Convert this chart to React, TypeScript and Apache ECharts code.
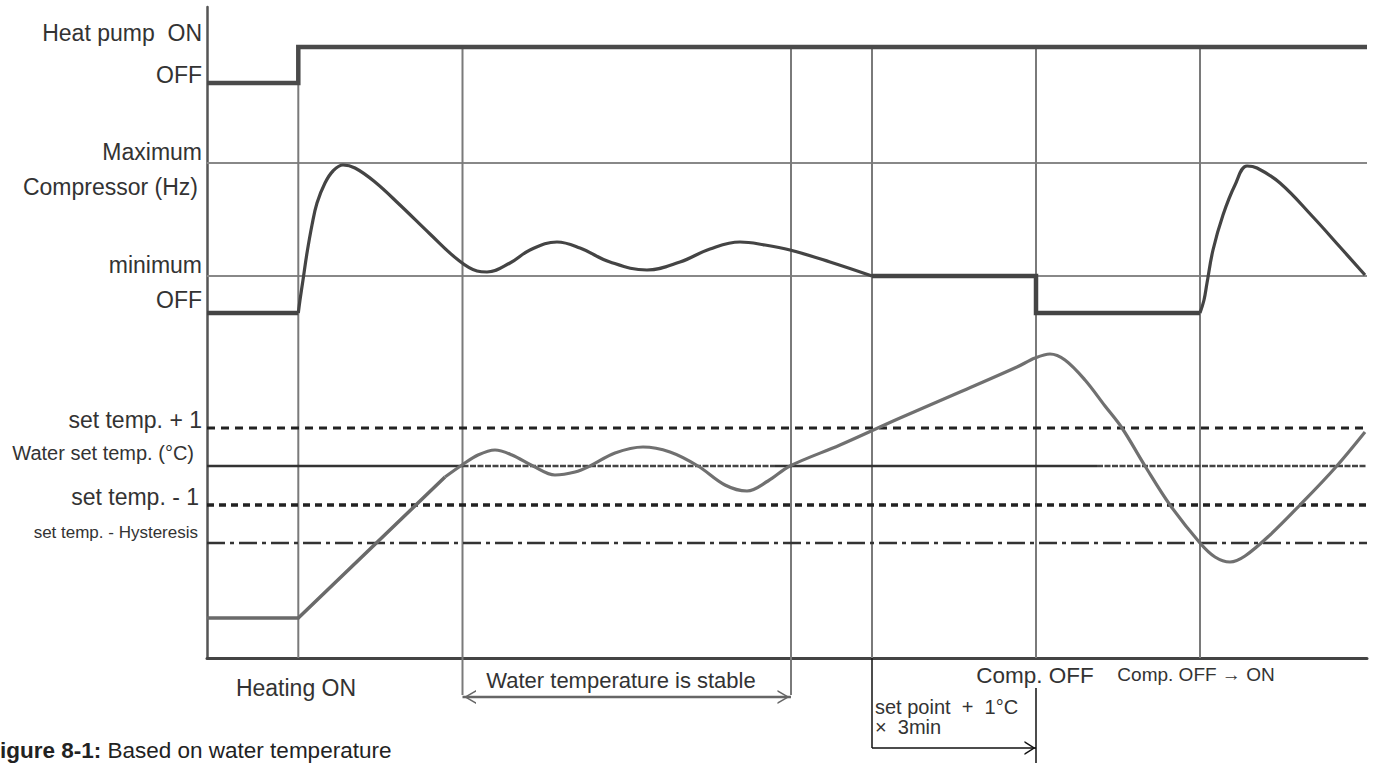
import React, { useEffect, useRef } from "react";
import * as echarts from "echarts";

// ---------- scales ----------
const X_MAX = 116;
const Y_MAX = 65.1;

// ---------- levels ----------
const HP_ON = 61.1;
const HP_OFF = 57.5;
const COMP_MAX = 49.5;
const COMP_MIN = 38.2;
const COMP_OFF = 34.5;
const SET_PLUS1 = 23.0;
const SET_TEMP = 19.2;
const SET_MINUS1 = 15.3;
const SET_HYST = 11.5;
const WATER_START = 4.0;

// ---------- event times ----------
const eventTimes = [9.13, 25.55, 58.4, 66.5, 82.9, 99.3];

// ---------- series ----------
const heatPump = [
  [0, HP_OFF], [9.13, HP_OFF], [9.13, HP_ON], [116, HP_ON],
];
const compOffStart = [[0, COMP_OFF], [9.13, COMP_OFF]];
const compRun1 = [
  [9.13, 34.5], [9.3, 35.8], [9.6, 37.8], [10.0, 40.5], [10.5, 43.3], [11.0, 45.5],
  [11.8, 47.5], [12.6, 48.7], [13.6, 49.3], [14.8, 49.0], [16.8, 47.6], [19.3, 45.3],
  [22.3, 42.4], [25.0, 39.9], [27.0, 38.7], [28.0, 38.6], [30.3, 39.5], [32.3, 40.8], [35.0, 41.6],
  [37.3, 41.0], [40.3, 39.6], [44.0, 38.8], [47.3, 39.6], [50.3, 40.9], [53.3, 41.6],
  [55.8, 41.3], [58.3, 40.8], [62.3, 39.6], [66.5, 38.2],
];
const compHold = [
  [66.5, COMP_MIN], [82.9, COMP_MIN], [82.9, COMP_OFF], [99.3, COMP_OFF],
];
const compRun2 = [
  [99.3, 34.5], [99.7, 35.8], [100.0, 37.5], [100.6, 40.8], [101.6, 44.3], [102.8, 47.3],
  [104.0, 49.2], [105.0, 49.0], [107.3, 47.5], [110.6, 44.1], [113.3, 41.1], [115.8, 38.3],
];
const waterRamp = [[0, WATER_START], [9.13, WATER_START], [23.8, 18.1]];
const waterWave = [
  [23.8, 18.1], [25.5, 19.3], [27.1, 20.3], [28.8, 20.8], [30.5, 20.3], [32.6, 19.2],
  [34.8, 18.3], [36.8, 18.6], [38.3, 19.2], [40.8, 20.5], [43.6, 21.1], [46.3, 20.6],
  [49.1, 19.2], [51.8, 17.3], [54.0, 16.7], [56.1, 17.7], [58.3, 19.2], [63.3, 21.3],
  [69.3, 24.0], [75.3, 26.6], [81.0, 29.1], [82.8, 30.0], [84.3, 30.4], [85.8, 29.8],
  [87.8, 27.8], [89.8, 25.2], [91.5, 23.0], [93.8, 19.2], [96.3, 15.3], [99.3, 11.5],
  [100.8, 10.1], [102.3, 9.6], [103.8, 10.2], [106.3, 12.3], [109.3, 15.3],
  [112.8, 19.0], [115.8, 22.6],
];

// set-temperature line: alternating solid / dotted stretches
const setTempSolid = [[0, 25.55], [56.8, 89.0]];
const setTempDotted = [[25.55, 56.8], [89.0, 116]];

// annotation spans below the axis
const stableSpan = [25.55, 58.4];
const STABLE_ARROW_Y = -3.9;
const STABLE_TICK_BOTTOM = -3.7;
const holdSpan = [66.5, 82.9];
const HOLD_ARROW_Y = -9.0;
const HOLD_END_TOP = -3.0;
const HOLD_END_BOTTOM = -10.5;

// ---------- tick labels ----------
const yLabelValues = [62.5, 58.3, 50.6, 47.1, 39.3, 35.8, 23.8, 20.5, 16.1, 12.6];
const yLabelTexts = [
  "Heat pump  ON", "OFF", "Maximum", "Compressor (Hz)", "minimum", "OFF",
  "set temp. + 1", "Water set temp. (°C)", "set temp. - 1", "set temp. - Hysteresis",
];
const yLabelStyles = ["a", "a", "a", "b", "a", "a", "a", "c", "d", "e"];

const xLabelValues = [8.9, 41.4, 82.8, 98.9];
const xLabelTexts = ["Heating ON", "Water temperature is stable", "Comp. OFF", "Comp. OFF → ON"];
const xLabelStyles = ["h", "s", "c", "o"];

const FONT = "'Liberation Sans', Arial, sans-serif";
const TEXT_COLOR = "#333";

// open chevron pointing up, tip at the symbol centre
const CHEVRON = "path://M6,10 L12,20 L10.6,20 L6,12.4 L1.4,20 L0,20 Z M5.99,0 L6.01,0 L6,0.01 Z";

function nearestIndex(values: number[], v: number) {
  let best = 0;
  values.forEach((x, i) => {
    if (Math.abs(x - v) < Math.abs(values[best] - v)) best = i;
  });
  return best;
}

function lineSeries(
  data: number[][],
  color: string,
  width: number,
  type: any = "solid",
  smooth: number | boolean = false,
  clip = true
) {
  return {
    type: "line",
    data,
    showSymbol: false,
    symbol: "none",
    smooth,
    clip,
    silent: true,
    lineStyle: { color, width, type, cap: "butt", join: "miter" },
  };
}

function arrowHeads(points: number[][], rotate: number, color: string, size: number[]) {
  return {
    type: "scatter",
    data: points,
    clip: false,
    silent: true,
    symbol: CHEVRON,
    symbolSize: size,
    symbolRotate: rotate,
    itemStyle: { color, opacity: 1 },
    z: 5,
  };
}

export default function App() {
  const ref = useRef<HTMLDivElement>(null);

  useEffect(() => {
    if (!ref.current) return;
    const chart = echarts.init(ref.current, undefined, { renderer: "svg" });

    const series: any[] = [];

    // thin horizontal reference lines
    series.push(lineSeries([[0, COMP_MAX], [X_MAX, COMP_MAX]], "#888", 2));
    series.push(lineSeries([[0, COMP_MIN], [X_MAX, COMP_MIN]], "#888", 2));

    // vertical event lines
    eventTimes.forEach((t) => {
      series.push(lineSeries([[t, HP_ON], [t, 0]], "#7a7a7a", 2));
      if (stableSpan.includes(t)) {
        series.push(lineSeries([[t, 0], [t, STABLE_TICK_BOTTOM]], "#7a7a7a", 2, "solid", false, false));
      }
      if (t === holdSpan[0]) {
        series.push(lineSeries([[t, 0], [t, HOLD_ARROW_Y]], "#111", 1.5, "solid", false, false));
      }
    });

    // water temperature thresholds
    series.push(lineSeries([[0, SET_PLUS1], [X_MAX, SET_PLUS1]], "#222", 3, [8, 6]));
    series.push(lineSeries([[0, SET_MINUS1], [X_MAX, SET_MINUS1]], "#222", 3.5, [7, 5]));
    series.push(lineSeries([[0, SET_HYST], [X_MAX, SET_HYST]], "#333", 2.5, [18, 5, 4, 5]));
    setTempSolid.forEach(([a, b]) =>
      series.push(lineSeries([[a, SET_TEMP], [b, SET_TEMP]], "#333", 2.5))
    );
    setTempDotted.forEach(([a, b]) =>
      series.push(lineSeries([[a, SET_TEMP], [b, SET_TEMP]], "#444", 2.5, [6, 1.5]))
    );

    // signals
    series.push(lineSeries(heatPump, "#4a4a4a", 4.5));
    series.push(lineSeries(compOffStart, "#444", 4.5));
    series.push(lineSeries(compRun1, "#444", 3.2, "solid", 0.4));
    series.push(lineSeries(compHold, "#444", 4.5));
    series.push(lineSeries(compRun2, "#444", 3.2, "solid", 0.4));
    series.push(lineSeries(waterRamp, "#6a6a6a", 3.5));
    series.push(lineSeries(waterWave, "#707070", 3.2, "solid", 0.35));

    // "water temperature is stable" double arrow
    series.push(
      lineSeries([[stableSpan[0], STABLE_ARROW_Y], [stableSpan[1], STABLE_ARROW_Y]], "#666", 2.5, "solid", false, false)
    );
    series.push(arrowHeads([[stableSpan[0] + 0.15, STABLE_ARROW_Y]], 90, "#666", [14, 24]));
    series.push(arrowHeads([[stableSpan[1] - 0.15, STABLE_ARROW_Y]], -90, "#666", [14, 24]));

    // "set point + 1°C x 3min" arrow
    series.push(
      lineSeries([[holdSpan[0], HOLD_ARROW_Y], [holdSpan[1], HOLD_ARROW_Y]], "#111", 1.5, "solid", false, false)
    );
    series.push(arrowHeads([[holdSpan[1] - 0.05, HOLD_ARROW_Y]], -90, "#111", [14, 22]));
    series.push(
      lineSeries([[holdSpan[1], HOLD_END_TOP], [holdSpan[1], HOLD_END_BOTTOM]], "#111", 1.5, "solid", false, false)
    );

    const option: any = {
      animation: false,
      backgroundColor: "#fff",
      grid: {
        left: 207,
        right: 12,
        top: 7,
        bottom: 105,
        containLabel: false,
        outerBoundsMode: "none",
      },
      xAxis: {
        type: "value",
        min: 0,
        max: X_MAX,
        splitLine: { show: false },
        axisTick: { show: false },
        axisLine: { show: true, onZero: false, lineStyle: { color: "#444", width: 3 } },
        axisLabel: {
          show: true,
          customValues: xLabelValues,
          margin: 6,
          hideOverlap: false,
          showMinLabel: true,
          showMaxLabel: true,
          formatter: (v: number) => {
            const i = nearestIndex(xLabelValues, v);
            return `{${xLabelStyles[i]}|${xLabelTexts[i]}}`;
          },
          rich: {
            h: { fontFamily: FONT, fontSize: 23, color: TEXT_COLOR, padding: [12, 0, 0, 0] },
            s: { fontFamily: FONT, fontSize: 22, color: TEXT_COLOR, padding: [5, 0, 0, 0] },
            c: { fontFamily: FONT, fontSize: 22.5, color: TEXT_COLOR, padding: [0, 0, 0, 0] },
            o: { fontFamily: FONT, fontSize: 19, color: TEXT_COLOR, padding: [1, 0, 0, 0] },
          },
        },
      },
      yAxis: {
        type: "value",
        min: 0,
        max: Y_MAX,
        splitLine: { show: false },
        axisTick: { show: false },
        axisLine: { show: true, onZero: false, lineStyle: { color: "#555", width: 2.5 } },
        axisLabel: {
          show: true,
          customValues: yLabelValues,
          margin: 5,
          hideOverlap: false,
          formatter: (v: number) => {
            const i = nearestIndex(yLabelValues, v);
            return `{${yLabelStyles[i]}|${yLabelTexts[i]}}`;
          },
          rich: {
            a: { fontFamily: FONT, fontSize: 23, color: TEXT_COLOR },
            b: { fontFamily: FONT, fontSize: 23, color: TEXT_COLOR, padding: [0, 4, 0, 0] },
            c: { fontFamily: FONT, fontSize: 20, color: TEXT_COLOR, padding: [0, 8, 0, 0] },
            d: { fontFamily: FONT, fontSize: 23, color: TEXT_COLOR, padding: [0, 3, 0, 0] },
            e: { fontFamily: FONT, fontSize: 17, color: TEXT_COLOR, padding: [0, 4, 0, 0] },
          },
        },
      },
      series,
      graphic: [
        {
          type: "text",
          left: 875,
          top: 697,
          silent: true,
          style: {
            text: "set point  +  1°C\n×  3min",
            fontFamily: FONT,
            fontSize: 20,
            lineHeight: 20,
            fill: TEXT_COLOR,
          },
        },
        {
          type: "text",
          x: 0,
          y: 750,
          silent: true,
          style: {
            text: "{b|igure 8-1:}{n| Based on water temperature}",
            verticalAlign: "middle",
            rich: {
              b: { fontFamily: FONT, fontSize: 22.5, fontWeight: "bold", fill: "#222" },
              n: { fontFamily: FONT, fontSize: 22.5, fill: "#222" },
            },
          },
        },
      ],
    };

    chart.setOption(option);
    return () => chart.dispose();
  }, []);

  return (
    <div
      ref={ref}
      style={{ position: "fixed", left: 0, top: 0, width: 1379, height: 763, background: "#fff" }}
    />
  );
}
